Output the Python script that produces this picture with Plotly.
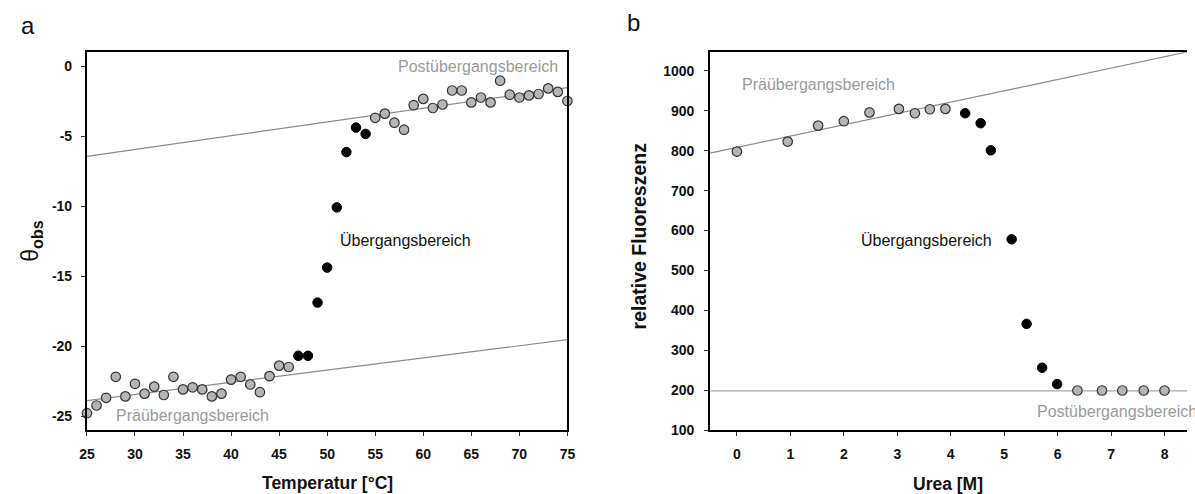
import plotly.graph_objects as go

# ---------- Panel a: thermal unfolding ----------
temp_pre = [25, 26, 27, 28, 29, 30, 31, 32, 33, 34, 35, 36, 37, 38, 39, 40, 41, 42, 43, 44, 45, 46]
theta_pre = [-24.8, -24.25, -23.7, -22.2, -23.6, -22.7, -23.4, -22.9, -23.5, -22.2, -23.1, -22.95,
             -23.1, -23.6, -23.4, -22.4, -22.2, -22.75, -23.3, -22.15, -21.4, -21.5]
temp_trans = [47, 48, 49, 50, 51, 52, 53, 54]
theta_trans = [-20.7, -20.7, -16.9, -14.4, -10.1, -6.15, -4.4, -4.85]
temp_post = [55, 56, 57, 58, 59, 60, 61, 62, 63, 64, 65, 66, 67, 68, 69, 70, 71, 72, 73, 74, 75]
theta_post = [-3.7, -3.4, -4.05, -4.55, -2.8, -2.35, -3.0, -2.75, -1.75, -1.75, -2.6, -2.25,
              -2.6, -1.05, -2.05, -2.25, -2.1, -2.0, -1.6, -1.85, -2.5]
a_fit_x = [25, 75]
a_pre_fit_y = [-23.9, -19.55]
a_post_fit_y = [-6.45, -1.55]

# ---------- Panel b: urea unfolding ----------
urea_pre = [0.0, 0.95, 1.52, 2.0, 2.48, 3.03, 3.33, 3.61, 3.9]
fluor_pre = [798, 823, 863, 874, 896, 905, 894, 904, 905]
urea_trans = [4.27, 4.56, 4.75, 5.14, 5.42, 5.71, 5.99]
fluor_trans = [894, 869, 801, 578, 366, 256, 215]
urea_post = [6.37, 6.83, 7.21, 7.61, 8.0]
fluor_post = [199, 199, 199, 199, 199]
b_fit_x = [-0.5, 8.42]
b_pre_fit_y = [794, 1047.5]
b_post_fit_y = [198, 198]

a_xticks = [25, 30, 35, 40, 45, 50, 55, 60, 65, 70, 75]
a_xtick_labels = ["25", "30", "35", "40", "45", "50", "55", "60", "65", "70", "75"]
a_yticks = [0, -5, -10, -15, -20, -25]
a_ytick_labels = ["0", "-5", "-10", "-15", "-20", "-25"]
b_xticks = [0, 1, 2, 3, 4, 5, 6, 7, 8]
b_xtick_labels = ["0", "1", "2", "3", "4", "5", "6", "7", "8"]
b_yticks = [100, 200, 300, 400, 500, 600, 700, 800, 900, 1000]
b_ytick_labels = ["100", "200", "300", "400", "500", "600", "700", "800", "900", "1000"]

FONT = "Arial, Liberation Sans, sans-serif"
GRAY_FILL = "#b5b5b5"
EDGE = "#333333"

fig = go.Figure()

def markers(x, y, xa, ya, filled_black):
    if filled_black:
        m = dict(size=9.5, color="black", line=dict(color="black", width=1))
    else:
        m = dict(size=9.5, color=GRAY_FILL, line=dict(color=EDGE, width=1.2))
    return go.Scatter(x=x, y=y, mode="markers", marker=m, xaxis=xa, yaxis=ya,
                      showlegend=False, hoverinfo="skip", cliponaxis=False)

def fitline(x, y, xa, ya, color):
    return go.Scatter(x=x, y=y, mode="lines", line=dict(color=color, width=1.2),
                      xaxis=xa, yaxis=ya, showlegend=False, hoverinfo="skip")

# Panel a
fig.add_trace(fitline(a_fit_x, a_pre_fit_y, "x", "y", "#8a8a8a"))
fig.add_trace(fitline(a_fit_x, a_post_fit_y, "x", "y", "#8a8a8a"))
fig.add_trace(markers(temp_pre, theta_pre, "x", "y", False))
fig.add_trace(markers(temp_trans, theta_trans, "x", "y", True))
fig.add_trace(markers(temp_post, theta_post, "x", "y", False))

# Panel b
fig.add_trace(fitline(b_fit_x, b_pre_fit_y, "x2", "y2", "#8a8a8a"))
fig.add_trace(fitline(b_fit_x, b_post_fit_y, "x2", "y2", "#a8a8a8"))
fig.add_trace(markers(urea_pre, fluor_pre, "x2", "y2", False))
fig.add_trace(markers(urea_trans, fluor_trans, "x2", "y2", True))
fig.add_trace(markers(urea_post, fluor_post, "x2", "y2", False))

W, H = 1195, 494
axis_common = dict(showgrid=False, zeroline=False, showline=True, linecolor="black", linewidth=2,
                   ticks="outside", ticklen=4, tickwidth=1, tickcolor="#333",
                   tickfont=dict(family=FONT, size=14, color="#111", weight="bold"))

fig.update_layout(
    width=W, height=H,
    margin=dict(l=0, r=0, t=52, b=64),
    paper_bgcolor="white", plot_bgcolor="white",
    font=dict(family=FONT),
    xaxis=dict(domain=[80 / W, 567 / W], range=[25, 75], tickvals=a_xticks, ticktext=a_xtick_labels,
               mirror=True, anchor="y", ticklabelstandoff=6, **axis_common),
    yaxis=dict(domain=[0, 1], range=[-26, 1], tickvals=a_yticks, ticktext=a_ytick_labels,
               mirror=True, anchor="x", ticklabelstandoff=6, **axis_common),
    xaxis2=dict(domain=[711.7 / W, 1.0], range=[-0.5, 8.42], tickvals=b_xticks, ticktext=b_xtick_labels,
                mirror=True, anchor="y2", ticklabelstandoff=6, **axis_common),
    yaxis2=dict(domain=[0, 1], range=[100, 1047.5], tickvals=b_yticks, ticktext=b_ytick_labels,
                mirror=False, anchor="x2", ticklabelstandoff=7, **axis_common),
)

gray_txt = "#9a9a9a"
ann = [
    # region labels panel a
    dict(x=65.7, y=0.0, xref="x", yref="y", text="Postübergangsbereich", font=dict(size=16, color=gray_txt)),
    dict(x=58.2, y=-12.46, xref="x", yref="y", text="Übergangsbereich", font=dict(size=16, color="#111")),
    dict(x=36.0, y=-24.95, xref="x", yref="y", text="Präübergangsbereich", font=dict(size=16, color=gray_txt)),
    # region labels panel b
    dict(x=1.53, y=967, xref="x2", yref="y2", text="Präübergangsbereich", font=dict(size=16, color=gray_txt)),
    dict(x=3.55, y=574, xref="x2", yref="y2", text="Übergangsbereich", font=dict(size=16, color="#111")),
    dict(x=5.58, y=146, xref="x2", yref="y2", text="Postübergangsbereich", xanchor="left",
         font=dict(size=16, color=gray_txt)),
    # panel letters
    dict(x=20 / W, y=(430 - 25) / 378, xref="paper", yref="paper", text="a", font=dict(size=24, color="#111")),
    dict(x=634 / W, y=(430 - 23) / 378, xref="paper", yref="paper", text="b", font=dict(size=24, color="#111")),
    # axis titles
    dict(x=323.5 / W, y=(430 - 483) / 378, xref="paper", yref="paper", text="<b>Temperatur [°C]</b>",
         font=dict(size=17.5, color="#111")),
    dict(x=953 / W, y=(430 - 484) / 378, xref="paper", yref="paper", text="<b>Urea [M]</b>",
         font=dict(size=17.5, color="#111")),
    dict(x=23 / W, y=(430 - 241) / 378, xref="paper", yref="paper",
         text="θ<sub><b>obs</b></sub>", textangle=-90,
         font=dict(size=23, color="#111")),
    dict(x=640 / W, y=(430 - 236) / 378, xref="paper", yref="paper", text="<b>relative Fluoreszenz</b>",
         textangle=-90, font=dict(size=19.5, color="#111")),
]
for a in ann:
    a.setdefault("xanchor", "center")
    a.setdefault("yanchor", "middle")
    a["showarrow"] = False
    a["font"]["family"] = FONT
fig.update_layout(annotations=ann)

fig.write_html("out.html", config={"displayModeBar": False},
               post_script="document.body.style.margin='0';document.body.style.overflow='hidden';")
